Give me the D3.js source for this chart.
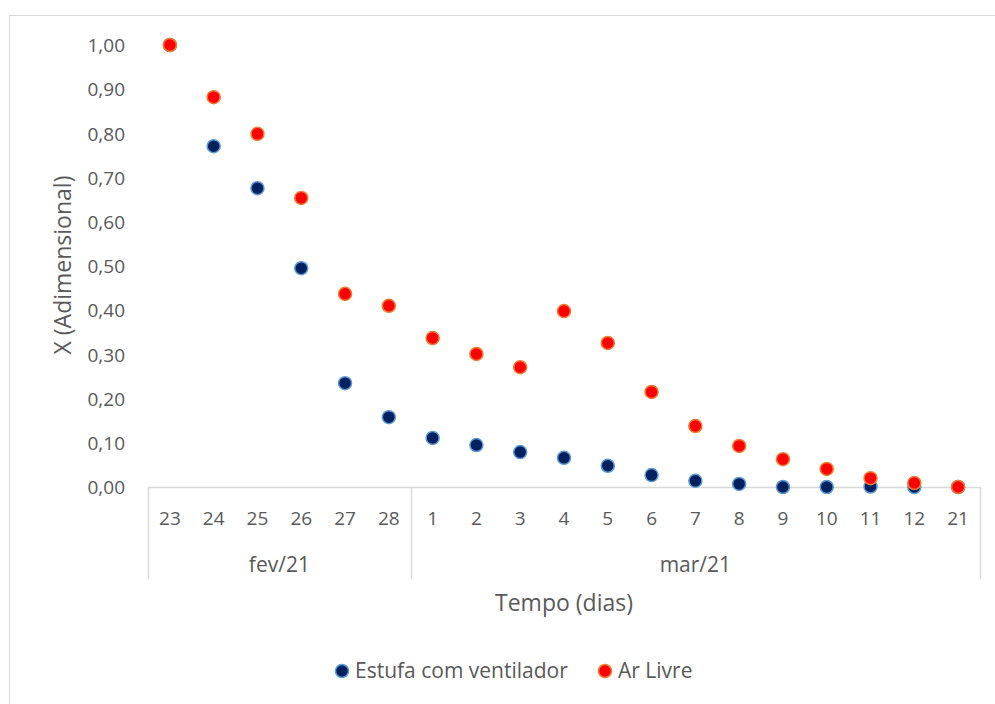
<!DOCTYPE html>
<html>
<head>
<meta charset="utf-8">
<script src="https://cdn.jsdelivr.net/npm/d3@7"></script>
<style>
  html, body { margin: 0; padding: 0; background: #fff; }
  svg { display: block; }
  text { font-family: "Open Sans", "Noto Sans", sans-serif; fill: #595959; }
</style>
</head>
<body>
<svg id="chart" width="995" height="704"></svg>
<script>
const days = ["23","24","25","26","27","28","1","2","3","4","5","6","7","8","9","10","11","12","21"];
const months = ["fev/21","fev/21","fev/21","fev/21","fev/21","fev/21","mar/21","mar/21","mar/21","mar/21","mar/21","mar/21","mar/21","mar/21","mar/21","mar/21","mar/21","mar/21","mar/21"];
const estufa = [1.00,0.771,0.676,0.495,0.235,0.158,0.111,0.095,0.079,0.066,0.048,0.027,0.014,0.007,0.000,0.000,0.001,0.000,0.000];
const arLivre = [1.00,0.882,0.799,0.654,0.437,0.410,0.337,0.301,0.271,0.398,0.326,0.215,0.138,0.093,0.063,0.041,0.020,0.009,0.000];
const yTicks = [0,0.1,0.2,0.3,0.4,0.5,0.6,0.7,0.8,0.9,1.0];
const seriesNames = ["Estufa com ventilador","Ar Livre"];

const svg = d3.select("#chart");
const mLeft = 148, mRight = 980, mTop = 45, mBottom = 487;

// outer chart border (cropped at right and bottom)
svg.append("rect").attr("x", 9.5).attr("y", 15.5).attr("width", 1000).attr("height", 1000)
  .attr("fill", "none").attr("stroke", "#d9d9d9").attr("stroke-width", 1);

const idx = days.map((d, i) => i);
const x = d3.scaleBand().domain(idx).range([mLeft, mRight]).padding(0);
const y = d3.scaleLinear().domain([0, 1]).range([mBottom, mTop]);

// y axis labels
const fmt = v => d3.format(".2f")(v).replace(".", ",");
const yAxis = d3.axisLeft(y).tickValues(yTicks).tickFormat(fmt).tickSize(0).tickPadding(0);
const yg = svg.append("g").attr("transform", `translate(125,0)`).call(yAxis);
yg.select(".domain").remove();
yg.selectAll("text").style("font-size", "19px").attr("fill", "#595959").attr("dy", "0.35em");

// x axis
const xAxis = d3.axisBottom(x).tickFormat(i => days[i]).tickSize(0).tickPadding(0);
const xg = svg.append("g").attr("transform", `translate(0,${mBottom})`).call(xAxis);
xg.select(".domain").remove();
xg.selectAll("text").style("font-size", "19px").attr("fill", "#595959").attr("dy", "0").attr("y", 38);

svg.append("line").attr("x1", mLeft).attr("x2", mRight).attr("y1", mBottom + 0.5).attr("y2", mBottom + 0.5)
  .attr("stroke", "#d9d9d9").attr("stroke-width", 1.5);

// month groups
const groups = d3.groups(idx, i => months[i]);
const bounds = [mLeft];
groups.forEach(([m, arr]) => {
  const x0 = x(arr[0]), x1 = x(arr[arr.length - 1]) + x.bandwidth();
  if (!bounds.includes(x1)) bounds.push(x1);
  svg.append("text").attr("x", (x0 + x1) / 2).attr("y", 572).attr("text-anchor", "middle")
    .style("font-size", "21px").text(m);
});
bounds.forEach(b => {
  svg.append("line").attr("x1", Math.round(b) + 0.5).attr("x2", Math.round(b) + 0.5)
    .attr("y1", mBottom).attr("y2", 579).attr("stroke", "#d9d9d9").attr("stroke-width", 1.5);
});

// axis titles
svg.append("text").attr("x", 564).attr("y", 611).attr("text-anchor", "middle")
  .style("font-size", "23px").text("Tempo (dias)");
svg.append("text").attr("transform", `translate(71,${(mTop + mBottom) / 2 - 1}) rotate(-90)`)
  .attr("text-anchor", "middle").style("font-size", "23px").text("X (Adimensional)");

// markers
const styles = [
  { fill: "#002060", stroke: "#5B9BD5" },
  { fill: "#FF0000", stroke: "#ED7D31" }
];
[estufa, arLivre].forEach((vals, s) => {
  svg.append("g").selectAll("circle").data(vals).join("circle")
    .attr("cx", (v, i) => x(i) + x.bandwidth() / 2)
    .attr("cy", v => y(v))
    .attr("r", 6.5)
    .attr("fill", styles[s].fill)
    .attr("stroke", styles[s].stroke)
    .attr("stroke-width", 1.5);
});

// legend
const legend = [{ x: 342, name: seriesNames[0] }, { x: 605, name: seriesNames[1] }];
legend.forEach((l, s) => {
  svg.append("circle").attr("cx", l.x).attr("cy", 671).attr("r", 6.5)
    .attr("fill", styles[s].fill).attr("stroke", styles[s].stroke).attr("stroke-width", 1.5);
  svg.append("text").attr("x", l.x + 13).attr("y", 671).attr("dy", "0.35em")
    .style("font-size", "21px").text(l.name);
});
</script>
</body>
</html>
